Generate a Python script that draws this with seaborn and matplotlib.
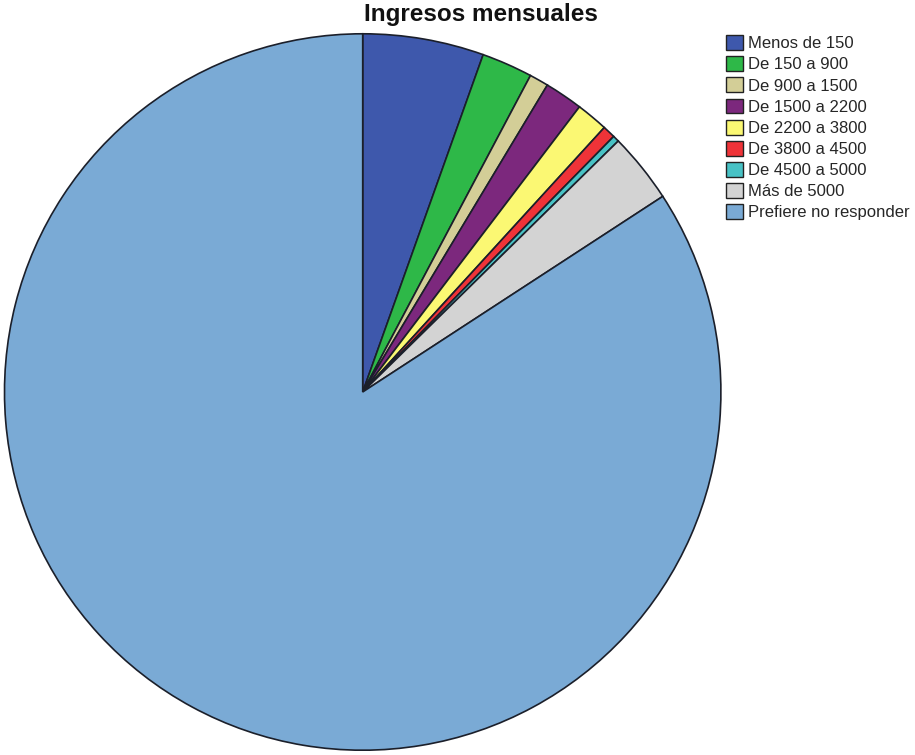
#####----- Pie chart of monthly income categories (survey responses)

#####----- IMPORTS
import matplotlib
matplotlib.use("Agg")
import matplotlib.pyplot as plt
from matplotlib.patches import Patch
import seaborn as sns

#####----- DATA
categorias = ["Menos de 150", "De 150 a 900", "De 900 a 1500", "De 1500 a 2200",
              "De 2200 a 3800", "De 3800 a 4500", "De 4500 a 5000", "Más de 5000",
              "Prefiere no responder"]
frecuencias = [19, 8, 3, 6, 5, 2, 1, 11, 293]
colores = ["#3E58AC", "#2EB848", "#D3CE97", "#7C287D", "#FBF873",
           "#EF3338", "#48C2C5", "#D3D3D3", "#7AAAD5"]
titulo = "Ingresos mensuales"

#####----- PLOT
sns.set_theme(style="white")
plt.rcParams['font.family'] = ['Liberation Sans', 'DejaVu Sans']

W, H = 915, 755
fig = plt.figure(figsize=(W / 100, H / 100), dpi=100)
fig.patch.set_facecolor("white")

# pie occupies a 720px square on the left
ax = fig.add_axes([2.7 / W, 3 / H, 720 / W, 720 / H])
ax.pie(frecuencias, colors=colores, startangle=90, counterclock=False, radius=1,
       wedgeprops=dict(edgecolor="#1b1f2a", linewidth=1.2))
ax.set_xlim(-1.005, 1.005)
ax.set_ylim(-1.005, 1.005)
ax.set_aspect("equal")
ax.axis("off")

fig.text(481 / W, 1 - 14 / H, titulo, ha="center", va="center",
         fontsize=17.5, fontweight="bold", color="#111111")

handles = [Patch(facecolor=c, edgecolor="#222222", linewidth=1.0) for c in colores]
fig.legend(handles, categorias, loc="upper left", bbox_to_anchor=(726 / W, 1 - 35 / H),
           frameon=False, fontsize=12, handlelength=1.0, handleheight=1.0,
           handletextpad=0.3, labelspacing=0.3, borderpad=0, borderaxespad=0)

fig.savefig("out.png", dpi=100)
